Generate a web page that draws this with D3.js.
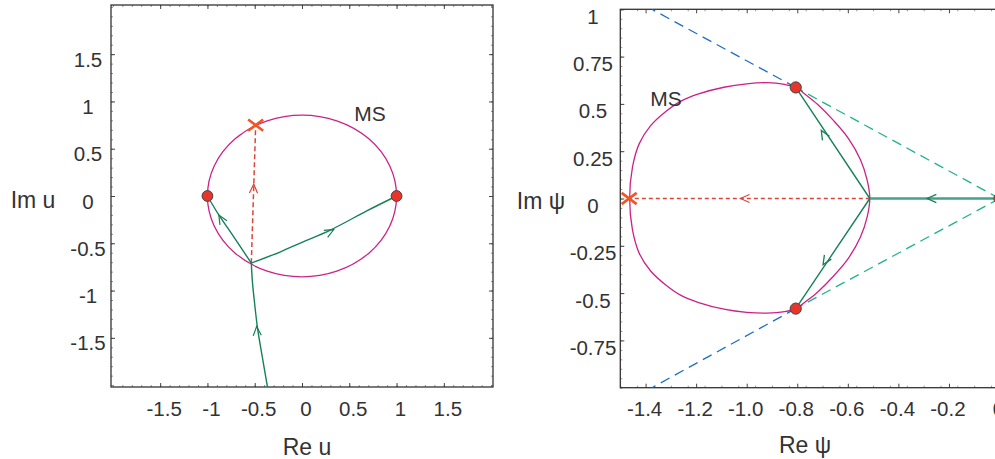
<!DOCTYPE html>
<html>
<head>
<meta charset="utf-8">
<script src="https://cdn.jsdelivr.net/npm/d3@7"></script>
<style>
  body { margin: 0; background: #fff; }
  text { font-family: "Liberation Sans", Arial, sans-serif; fill: #333; }
</style>
</head>
<body>
<div id="chart"></div>
<script>
// ---- data ----
// left panel (u plane)
var uTicks = [-1.5, -1, -0.5, 0, 0.5, 1, 1.5];
var uTickLabels = ["-1.5", "-1", "-0.5", "0", "0.5", "1", "1.5"];
var msCentreU = [0, 0];
var msRadiiU = [1, 0.855];
var dotsU = [[-1, 0], [1, 0]];
var crossU = [-0.49, 0.75];
var inPathU = [[-0.36, -2.05], [-0.42, -1.7], [-0.47, -1.4], [-0.505, -1.1], [-0.525, -0.9], [-0.536, -0.71]];
var leftPathU = [[-0.536, -0.71], [-0.75, -0.39], [-0.88, -0.2], [-1, 0]];
var rightPathU = [[-0.536, -0.71], [-0.227, -0.59], [0, -0.49], [0.3, -0.36], [0.69, -0.155], [1, 0]];
var dashPathU = [[-0.536, -0.71], [-0.49, 0.75]];
// arrows: [vertex, point it heads toward]
var arrowsU = [
  [[-0.48, -1.38], [-0.5, -1.1]],
  [[-0.88, -0.2], [-1, 0]],
  [[0.336, -0.355], [1, 0]]
];
var dashArrowsU = [[[-0.51, 0.126], [-0.49, 0.75]]];

// right panel (psi plane)
var psiXTicks = [-1.4, -1.2, -1.0, -0.8, -0.6, -0.4, -0.2, 0];
var psiXLabels = ["-1.4", "-1.2", "-1.0", "-0.8", "-0.6", "-0.4", "-0.2", "0"];
var psiYTicks = [1, 0.75, 0.5, 0.25, 0, -0.25, -0.5, -0.75];
var psiYLabels = ["1", "0.75", "0.5", "0.25", "0", "-0.25", "-0.5", "-0.75"];
var msCurvePsi = [
  [-0.513, 0], [-0.524, 0.1], [-0.55, 0.205], [-0.598, 0.318], [-0.658, 0.414], [-0.72, 0.498],
  [-0.764, 0.546], [-0.806, 0.587], [-0.85, 0.603], [-0.92, 0.612], [-1.0, 0.606], [-1.09, 0.588],
  [-1.19, 0.553], [-1.26, 0.515], [-1.32, 0.46], [-1.38, 0.385], [-1.425, 0.29], [-1.452, 0.165], [-1.463, 0],
  [-1.452, -0.165], [-1.425, -0.29], [-1.38, -0.383], [-1.32, -0.457], [-1.26, -0.512], [-1.19, -0.55],
  [-1.09, -0.585], [-1.0, -0.602], [-0.92, -0.606], [-0.85, -0.598], [-0.806, -0.582], [-0.764, -0.542],
  [-0.72, -0.495], [-0.658, -0.412], [-0.598, -0.316], [-0.55, -0.204], [-0.524, -0.1]
];
var dotsPsi = [[-0.806, 0.587], [-0.806, -0.582], [0, 0]];
var crossPsi = [-1.465, 0];
var inPathPsi = [[0, 0], [-0.513, 0]];
var branchesPsi = [[[-0.513, 0], [-0.806, 0.587]], [[-0.513, 0], [-0.806, -0.582]]];
var dashPathPsi = [[-0.513, 0], [-1.465, 0]];
var tealTangents = [[[0, 0], [-0.806, 0.587]], [[0, 0], [-0.806, -0.582]]];
var blueTangents = [[[-0.806, 0.587], [-1.375, 1.0]], [[-0.806, -0.582], [-1.375, -1.0]]];
var arrowsPsi = [
  [[-0.286, 0], [-0.513, 0]],
  [[-0.705, 0.36], [-0.806, 0.587]],
  [[-0.698, -0.35], [-0.806, -0.582]]
];
var dashArrowsPsi = [[[-1.025, 0], [-1.465, 0]]];

// ---- colours ----
var magenta = "#cc2288", green = "#168058", greenThick = "#45a287",
    red = "#d9463c", cross = "#f05523", teal = "#22b28c", blue = "#1f6fc2";

var svg = d3.select("#chart").append("svg").attr("width", 995).attr("height", 459);

var defs = svg.append("defs");
defs.append("clipPath").attr("id", "clipL").append("rect")
    .attr("x", 111).attr("y", 5).attr("width", 382).attr("height", 382);
defs.append("clipPath").attr("id", "clipR").append("rect")
    .attr("x", 620.3).attr("y", 9.3).attr("width", 379.2).attr("height", 378.4);

// scales
var xU = d3.scaleLinear().domain([-2.02, 2.02]).range([111, 493]);
var yU = d3.scaleLinear().domain([-2.02, 2.02]).range([387, 5]);
var xP = d3.scaleLinear().domain([-1.5, 0]).range([620.3, 999.5]);
var yP = d3.scaleLinear().domain([-1, 1]).range([387.7, 9.3]);

function minors(lo, hi, step) {
  var out = [];
  for (var v = lo; v <= hi + 1e-9; v += step) out.push(+v.toFixed(4));
  return out;
}

//frame + inward ticks on all four sides
function frame(x, y, xMaj, xMin, yMaj, yMin) {
  var g = svg.append("g");
  var x0 = x.range()[0], x1 = x.range()[1], y0 = y.range()[1], y1 = y.range()[0];
  var sides = [
    [d3.axisBottom(x), "translate(0," + y1 + ")", xMaj, xMin],
    [d3.axisTop(x), "translate(0," + y0 + ")", xMaj, xMin],
    [d3.axisLeft(y), "translate(" + x0 + ",0)", yMaj, yMin],
    [d3.axisRight(y), "translate(" + x1 + ",0)", yMaj, yMin]
  ];
  sides.forEach(function (s) {
    var a1 = s[0].tickValues(s[3]).tickSize(-2).tickFormat("").tickSizeOuter(0);
    g.append("g").attr("transform", s[1]).call(a1)
      .call(function (sel) { sel.select(".domain").remove(); })
      .selectAll("line").attr("stroke", "#777").attr("stroke-width", 0.8);
    var a2 = s[0].tickValues(s[2]).tickSize(-4).tickFormat("").tickSizeOuter(0);
    g.append("g").attr("transform", s[1]).call(a2)
      .call(function (sel) { sel.select(".domain").remove(); })
      .selectAll("line").attr("stroke", "#444").attr("stroke-width", 1);
  });
  g.append("rect").attr("x", x0).attr("y", y0).attr("width", x1 - x0).attr("height", y1 - y0)
    .attr("fill", "none").attr("stroke", "#333").attr("stroke-width", 1.3);
}

frame(xU, yU, uTicks, minors(-2, 2, 0.1), uTicks, minors(-2, 2, 0.1));
frame(xP, yP, psiXTicks, minors(-1.5, 0, 0.2 / 3), psiYTicks, minors(-1, 1, 0.05));

// tick labels
var fs = 20.5;
svg.append("g").selectAll("text").data(uTicks).join("text")
  .attr("x", function (d) { return xU(d) + 4; }).attr("y", 416)
  .attr("text-anchor", "middle").attr("font-size", fs)
  .text(function (d, i) { return uTickLabels[i]; });
svg.append("g").selectAll("text").data(uTicks).join("text")
  .attr("x", 88).attr("y", function (d) { return yU(d) + 12.5; })
  .attr("text-anchor", "middle").attr("font-size", fs)
  .text(function (d, i) { return uTickLabels[i]; });
svg.append("g").selectAll("text").data(psiXTicks).join("text")
  .attr("x", function (d) { return xP(d) - 1; }).attr("y", 416)
  .attr("text-anchor", "middle").attr("font-size", fs)
  .text(function (d, i) { return psiXLabels[i]; });
svg.append("g").selectAll("text").data(psiYTicks).join("text")
  .attr("x", 593).attr("y", function (d) { return yP(d) + 14.5; })
  .attr("text-anchor", "middle").attr("font-size", fs)
  .text(function (d, i) { return psiYLabels[i]; });

// axis titles
svg.append("text").attr("x", 307).attr("y", 455).attr("text-anchor", "middle").attr("font-size", 23).text("Re u");
svg.append("text").attr("x", 33).attr("y", 208).attr("text-anchor", "middle").attr("font-size", 23).text("Im u");
svg.append("text").attr("x", 805).attr("y", 453).attr("text-anchor", "middle").attr("font-size", 23).text("Re ψ");
svg.append("text").attr("x", 541).attr("y", 209).attr("text-anchor", "middle").attr("font-size", 23).text("Im ψ");

//chevron arrowhead at vertex, pointing toward target
function chevron(g, sx, sy, pair, color, w) {
  var vx = sx(pair[0][0]), vy = sy(pair[0][1]);
  var ang = Math.atan2(sy(pair[1][1]) - vy, sx(pair[1][0]) - vx);
  var L = 10, th = 24 * Math.PI / 180;
  var p1 = [vx - L * Math.cos(ang - th), vy - L * Math.sin(ang - th)];
  var p2 = [vx - L * Math.cos(ang + th), vy - L * Math.sin(ang + th)];
  g.append("path").attr("d", "M" + p1 + "L" + [vx, vy] + "L" + p2)
    .attr("fill", "none").attr("stroke", color).attr("stroke-width", w || 1.2);
}

function crossMark(g, px, py, color) {
  var s = 7.5;
  g.append("path").attr("d", "M" + (px - s) + "," + (py - s * 0.75) + "L" + (px + s) + "," + (py + s * 0.75) +
    "M" + (px - s) + "," + (py + s * 0.75) + "L" + (px + s) + "," + (py - s * 0.75))
    .attr("stroke", color).attr("stroke-width", 2.6).attr("fill", "none");
}

// ---- left panel ----
var gL = svg.append("g").attr("clip-path", "url(#clipL)");
var lineU = d3.line().x(function (d) { return xU(d[0]); }).y(function (d) { return yU(d[1]); });
var curveU = d3.line().curve(d3.curveCatmullRom).x(function (d) { return xU(d[0]); }).y(function (d) { return yU(d[1]); });

gL.append("ellipse").attr("cx", xU(msCentreU[0])).attr("cy", yU(msCentreU[1]))
  .attr("rx", xU(msRadiiU[0]) - xU(0)).attr("ry", yU(0) - yU(msRadiiU[1]))
  .attr("fill", "none").attr("stroke", magenta).attr("stroke-width", 1.3);
gL.append("path").attr("d", lineU(dashPathU)).attr("fill", "none").attr("stroke", red)
  .attr("stroke-width", 1.5).attr("stroke-dasharray", "5,3");
[inPathU, leftPathU, rightPathU].forEach(function (p) {
  gL.append("path").attr("d", curveU(p)).attr("fill", "none").attr("stroke", green).attr("stroke-width", 1.4);
});
arrowsU.forEach(function (a) { chevron(gL, xU, yU, a, green); });
dashArrowsU.forEach(function (a) { chevron(gL, xU, yU, a, red); });
gL.selectAll("circle.dot").data(dotsU).join("circle").attr("class", "dot")
  .attr("cx", function (d) { return xU(d[0]); }).attr("cy", function (d) { return yU(d[1]); })
  .attr("r", 5.4).attr("fill", "#e8352a").attr("stroke", "#444").attr("stroke-width", 1);
crossMark(gL, xU(crossU[0]), yU(crossU[1]), cross);
svg.append("text").attr("x", 370).attr("y", 121).attr("text-anchor", "middle").attr("font-size", 21).text("MS");

// ---- right panel ----
var gR = svg.append("g").attr("clip-path", "url(#clipR)");
var lineP = d3.line().x(function (d) { return xP(d[0]); }).y(function (d) { return yP(d[1]); });
var closedP = d3.line().curve(d3.curveCatmullRomClosed).x(function (d) { return xP(d[0]); }).y(function (d) { return yP(d[1]); });

tealTangents.forEach(function (p) {
  gR.append("path").attr("d", lineP(p)).attr("fill", "none").attr("stroke", teal)
    .attr("stroke-width", 1.3).attr("stroke-dasharray", "10,6");
});
blueTangents.forEach(function (p) {
  gR.append("path").attr("d", lineP(p)).attr("fill", "none").attr("stroke", blue)
    .attr("stroke-width", 1.3).attr("stroke-dasharray", "10,6");
});
gR.append("path").attr("d", closedP(msCurvePsi)).attr("fill", "none").attr("stroke", magenta).attr("stroke-width", 1.3);
gR.append("path").attr("d", lineP(dashPathPsi)).attr("fill", "none").attr("stroke", red)
  .attr("stroke-width", 1.3).attr("stroke-dasharray", "4,3");
gR.append("path").attr("d", lineP(inPathPsi)).attr("fill", "none").attr("stroke", greenThick).attr("stroke-width", 2.6);
branchesPsi.forEach(function (p) {
  gR.append("path").attr("d", lineP(p)).attr("fill", "none").attr("stroke", green).attr("stroke-width", 1.4);
});
arrowsPsi.forEach(function (a) { chevron(gR, xP, yP, a, green, 1.3); });
dashArrowsPsi.forEach(function (a) { chevron(gR, xP, yP, a, red, 1.1); });
gR.selectAll("circle.dot").data(dotsPsi).join("circle").attr("class", "dot")
  .attr("cx", function (d) { return xP(d[0]); }).attr("cy", function (d) { return yP(d[1]); })
  .attr("r", 5.6).attr("fill", "#e8352a").attr("stroke", "#444").attr("stroke-width", 1);
crossMark(gR, xP(crossPsi[0]), yP(crossPsi[1]), cross);
svg.append("text").attr("x", 666).attr("y", 106).attr("text-anchor", "middle").attr("font-size", 21).text("MS");
</script>
</body>
</html>
